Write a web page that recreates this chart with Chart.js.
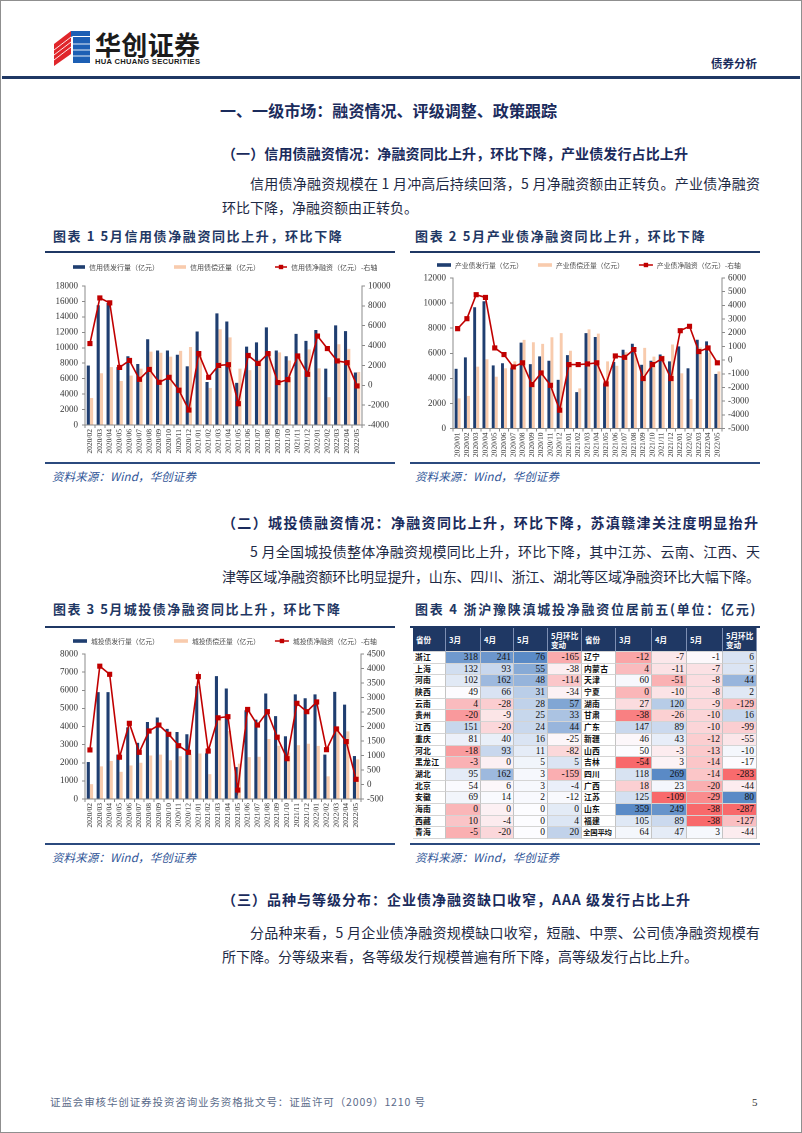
<!DOCTYPE html>
<html lang="zh-CN">
<head>
<meta charset="utf-8">
<script src="https://cdn.jsdelivr.net/npm/chart.js@4.4.1/dist/chart.umd.min.js"></script>
<style>
html,body{margin:0;padding:0;background:#fff;}
body{width:802px;height:1133px;position:relative;overflow:hidden;font-family:"Noto Sans CJK SC","Noto Sans",sans-serif;color:#1e2a45;}
#frame{position:absolute;left:0;top:0;width:800px;height:1131px;border:1px solid #8f8f8f;}
.t{position:absolute;white-space:nowrap;}
.ln{position:absolute;}
canvas{position:absolute;}
#tbl{position:absolute;left:413px;top:628px;width:344px;display:grid;
  grid-template-columns:33px 35px 33px 34px 34px 34px 36px 35px 36px 34px;
  grid-template-rows:24px repeat(16,11.7px);}
#tbl div{box-sizing:border-box;border-right:1px solid #c4c4c4;border-bottom:1px solid #d4d4d4;overflow:hidden;white-space:nowrap;}
#tbl .h{background:#1F3864;color:#fff;font-weight:700;font-size:7.6px;line-height:9.5px;padding:1px 1px 0 3px;display:flex;align-items:center;border-right:1px solid #7d8fb3;}
#tbl .p{font-size:7.8px;font-weight:700;line-height:10.7px;padding-left:2px;color:#111;letter-spacing:0.3px;}
#tbl .p.long{letter-spacing:-0.2px;font-size:7.4px;padding-left:1px;}
#tbl .n{font-family:"Liberation Serif",serif;font-size:9.5px;line-height:10.7px;text-align:right;padding-right:2px;color:#111;}
</style>
</head>
<body>
<div id="frame"></div>
<svg width="802" height="80" style="position:absolute;left:0;top:0">
  <polygon points="54,44 71,31 71,54 54,66" fill="#E0262B"/>
  <polygon points="73,37 90,37 90,63 73,63" fill="#1D5FB4"/>
  <polygon points="71,31 90,31 90,36 73,36 71,37" fill="#1D5FB4"/>
  <g stroke="#fff" stroke-width="0.9">
    <line x1="54" y1="50" x2="71" y2="37"/>
    <line x1="54" y1="55" x2="71" y2="42"/>
    <line x1="54" y1="60" x2="71" y2="47"/>
    <line x1="73" y1="44" x2="90" y2="44"/>
    <line x1="73" y1="50" x2="90" y2="50"/>
    <line x1="73" y1="56" x2="90" y2="56"/>
  </g>
</svg>
<canvas id="c1" width="350" height="207" style="left:45px;top:254px"></canvas>
<canvas id="c2" width="350" height="207" style="left:410px;top:254px"></canvas>
<canvas id="c3" width="350" height="212" style="left:45px;top:629px"></canvas>
<div id="tbl"></div>
<script>
// ---------------- data ----------------
const cats1 = ["2020/02","2020/03","2020/04","2020/05","2020/06","2020/07","2020/08","2020/09","2020/10","2020/11","2020/12","2021/01","2021/02","2021/03","2021/04","2021/05","2021/06","2021/07","2021/08","2021/09","2021/10","2021/11","2021/12","2022/01","2022/02","2022/03","2022/04","2022/05"];
const credIssue = [7700,15500,15800,7500,8900,7900,11100,9650,9650,9100,7600,12100,5570,14450,13400,5460,10150,10700,12650,9650,8900,11800,10900,12300,7300,12900,12150,6800];
const credRepay = [3500,6700,7500,5700,6400,7300,9500,9350,8850,9600,10100,8900,4800,12400,11350,7300,7100,8500,9450,9400,8350,8850,9800,7340,3600,10450,9850,6870];
const credNet = [4200,8800,8300,1800,2500,600,1600,300,800,-500,-2500,3200,800,2000,2080,-1850,3000,2200,3200,270,570,2950,1100,4960,3700,2450,2280,-70];
const credNames = ["信用债发行量（亿元）","信用债偿还量（亿元）","信用债净融资（亿元）-右轴"];

const cats2 = ["2020/01","2020/02","2020/03","2020/04","2020/05","2020/06","2020/07","2020/08","2020/09","2020/10","2020/11","2020/12","2021/01","2021/02","2021/03","2021/04","2021/05","2021/06","2021/07","2021/08","2021/09","2021/10","2021/11","2021/12","2022/01","2022/02","2022/03","2022/04","2022/05"];
const indIssue = [4760,5670,9670,10150,5030,5200,4850,6850,5130,5750,5400,3880,5850,2900,7600,7300,3600,5300,6280,6760,5080,5400,5900,5350,6550,4800,7080,6950,4350];
const indRepay = [2400,2600,4930,5520,4130,4800,5350,7070,6880,6750,7280,7600,6200,3200,7900,7560,5350,5000,6080,6000,6430,5730,5800,6700,4400,2350,6460,6060,4550];
const indNet = [2300,3030,4780,4580,890,400,-500,-200,-1790,-940,-1840,-3660,-330,-330,-280,-200,-1740,300,200,770,-1350,-330,100,-1350,2150,2470,620,890,-200];
const indNames = ["产业债发行量（亿元）","产业债偿还量（亿元）","产业债净融资（亿元）-右轴"];

const cats3 = ["2020/02","2020/03","2020/04","2020/05","2020/06","2020/07","2020/08","2020/09","2020/10","2020/11","2020/12","2021/01","2021/02","2021/03","2021/04","2021/05","2021/06","2021/07","2021/08","2021/09","2021/10","2021/11","2021/12","2022/01","2022/02","2022/03","2022/04","2022/05"];
const lgfvIssue = [2040,5900,5900,2450,3950,3100,4250,4500,3870,3700,3570,6230,2520,6780,6100,1760,4900,4380,5820,4570,3460,5770,5560,5770,2450,5910,5210,2370];
const lgfvRepay = [820,1800,2100,1500,1850,2000,2400,2450,2140,2360,2460,2510,1370,4480,3760,1950,2310,2330,3310,2940,2570,2970,3050,2930,1250,4000,3730,2190];
const lgfvNet = [1190,4080,3800,940,2110,1110,1845,2050,1730,1340,1110,3720,1155,2300,2340,-190,2590,2050,2510,1630,890,2800,2510,2845,1200,1915,1480,180];
const lgfvNames = ["城投债发行量（亿元）","城投债偿还量（亿元）","城投债净融资（亿元）-右轴"];

const tblHead = ["省份","3月","4月","5月","5月环比<br>变动"];
const provL = ["浙江","上海","河南","陕西","云南","贵州","江西","重庆","河北","黑龙江","湖北","北京","安徽","海南","西藏","青海"];
const marL = [318,132,102,49,4,-20,151,81,-18,-3,95,54,69,0,10,-5];
const aprL = [241,93,162,66,-28,-9,-20,40,93,0,162,6,14,0,-4,-20];
const mayL = [76,55,48,31,28,25,24,16,11,5,3,3,2,0,0,0];
const chgL = [-165,-38,-114,-34,57,33,44,-25,-82,5,-159,-4,-12,0,4,20];
const provR = ["辽宁","内蒙古","天津","宁夏","湖南","甘肃","广东","新疆","山西","吉林","四川","广西","江苏","山东","福建","全国平均"];
const marR = [-12,4,60,0,27,-38,147,46,50,-54,118,18,125,359,105,64];
const aprR = [-7,-11,-51,-10,120,-26,89,43,-3,3,269,23,-109,249,89,47];
const mayR = [-1,-7,-8,-8,-9,-10,-10,-12,-13,-14,-14,-20,-29,-38,-38,3];
const chgR = [6,5,44,2,-129,16,-99,-55,-10,-17,-283,-44,80,-287,-127,-44];

// ---------------- styles ----------------
const NAVY = '#1F3E70', PEACH = '#F8CBAD', RED = '#C00000', AX = '#8a8a8a';
const SERIF = '"Liberation Serif","Times New Roman",serif';
const CJK = '"Noto Sans CJK SC","Noto Sans",sans-serif';

const refLegend = {
  id: 'refLegend',
  afterDraw(chart, args, o) {
    const ctx = chart.ctx;
    ctx.save();
    ctx.font = o.size + 'px ' + CJK;
    ctx.textBaseline = 'middle';
    let x = o.x; const y = o.y;
    chart.data.datasets.forEach(ds => {
      if (ds.type === 'line') {
        ctx.strokeStyle = ds.borderColor; ctx.lineWidth = 1.5;
        ctx.beginPath(); ctx.moveTo(x, y); ctx.lineTo(x + o.box, y); ctx.stroke();
        ctx.fillStyle = ds.borderColor; ctx.fillRect(x + o.box / 2 - 2.2, y - 2.2, 4.4, 4.4);
      } else {
        ctx.fillStyle = ds.backgroundColor; ctx.fillRect(x, y - 1.8, o.box, 3.6);
      }
      ctx.fillStyle = '#4a4a4a';
      ctx.fillText(ds.label, x + o.box + 4, y + 0.5);
      x += o.box + 4 + ctx.measureText(ds.label).width + o.gap;
    });
    ctx.restore();
  }
};

function makeChart(id, c) {
  const W = 350, H = c.h, a = c.area;
  const tickFont = {family: SERIF, size: 9};
  return new Chart(document.getElementById(id), {
    type: 'bar',
    data: {
      labels: c.labels,
      datasets: [
        {label: c.names[0], data: c.issue, backgroundColor: NAVY, yAxisID: 'y', order: 2, categoryPercentage: 0.66, barPercentage: 0.95},
        {label: c.names[1], data: c.repay, backgroundColor: PEACH, yAxisID: 'y', order: 3, categoryPercentage: 0.66, barPercentage: 0.95},
        {type: 'line', label: c.names[2], data: c.net, yAxisID: 'y1', order: 0, borderColor: RED, backgroundColor: RED,
         borderWidth: 1.6, pointStyle: 'rect', pointRadius: 2.5, pointHoverRadius: 2.5, pointBackgroundColor: RED, pointBorderColor: RED, tension: 0}
      ]
    },
    options: {
      responsive: false, animation: false, devicePixelRatio: 2,
      layout: {padding: {top: a.top, left: 0, right: 0, bottom: 0}},
      plugins: {legend: {display: false}, tooltip: {enabled: false}, refLegend: c.legend},
      scales: {
        x: {
          grid: {offset: true, drawOnChartArea: false, tickLength: 3, color: AX},
          border: {color: AX},
          ticks: {autoSkip: false, minRotation: 90, maxRotation: 90, font: {family: SERIF, size: 7.5}, color: '#333', padding: 1},
          afterFit(s) { s.height = H - a.bottom; }
        },
        y: {
          position: 'left', min: 0, max: c.yMax,
          ticks: {stepSize: c.yStep, autoSkip: false, font: tickFont, color: '#333', padding: 4, callback: v => String(v)},
          grid: {drawOnChartArea: false, tickLength: 3, color: AX},
          border: {color: AX},
          afterFit(s) { s.width = a.left; }
        },
        y1: {
          position: 'right', min: c.y1Min, max: c.y1Max,
          ticks: {stepSize: c.y1Step, autoSkip: false, font: tickFont, color: '#333', padding: 3, callback: v => String(v)},
          grid: {drawOnChartArea: false, tickLength: 3, color: AX},
          border: {color: AX},
          afterFit(s) { s.width = W - a.right; }
        }
      }
    },
    plugins: [refLegend]
  });
}

makeChart('c1', {labels: cats1, issue: credIssue, repay: credRepay, net: credNet, names: credNames, h: 207,
  yMax: 18000, yStep: 2000, y1Min: -4000, y1Max: 10000, y1Step: 2000,
  area: {left: 40, right: 317, top: 32, bottom: 171},
  legend: {x: 28, y: 13, box: 12, gap: 15, size: 7}});
makeChart('c2', {labels: cats2, issue: indIssue, repay: indRepay, net: indNet, names: indNames, h: 207,
  yMax: 12000, yStep: 2000, y1Min: -5000, y1Max: 6000, y1Step: 1000,
  area: {left: 43, right: 312, top: 24, bottom: 174.5},
  legend: {x: 27, y: 11, box: 14, gap: 15, size: 6.8}});
makeChart('c3', {labels: cats3, issue: lgfvIssue, repay: lgfvRepay, net: lgfvNet, names: lgfvNames, h: 212,
  yMax: 8000, yStep: 1000, y1Min: -500, y1Max: 4500, y1Step: 500,
  area: {left: 40, right: 316, top: 25, bottom: 170},
  legend: {x: 28, y: 12, box: 14, gap: 15, size: 6.8}});

// ---------------- heat-map table ----------------
function lerp(c1, c2, t) { return c1.map((v, i) => Math.round(v + (c2[i] - v) * t)); }
function heatFn(vals) {
  const s = [...vals].sort((a, b) => a - b), n = s.length;
  const mid = n % 2 ? s[(n - 1) / 2] : (s[n / 2 - 1] + s[n / 2]) / 2;
  const mn = s[0], mx = s[n - 1];
  const R = [248, 105, 107], Wt = [252, 252, 255], B = [90, 138, 198];
  return v => {
    let c;
    if (v <= mid) c = lerp(R, Wt, mid === mn ? 1 : (v - mn) / (mid - mn));
    else c = lerp(Wt, B, (v - mid) / (mx - mid));
    return 'rgb(' + c.join(',') + ')';
  };
}
const hMar = heatFn(marL.concat(marR)), hApr = heatFn(aprL.concat(aprR)),
      hMay = heatFn(mayL.concat(mayR)), hChg = heatFn(chgL.concat(chgR));
const tbl = document.getElementById('tbl');
function cell(cls, html, bg) {
  const d = document.createElement('div'); d.className = cls; d.innerHTML = html;
  if (bg) d.style.background = bg; tbl.appendChild(d);
}
function provCell(name) { cell([...name].length > 3 ? 'p long' : 'p', name); }
tblHead.concat(tblHead).forEach(h => cell('h', h));
for (let i = 0; i < provL.length; i++) {
  provCell(provL[i]);
  cell('n', marL[i], hMar(marL[i])); cell('n', aprL[i], hApr(aprL[i]));
  cell('n', mayL[i], hMay(mayL[i])); cell('n', chgL[i], hChg(chgL[i]));
  provCell(provR[i]);
  cell('n', marR[i], hMar(marR[i])); cell('n', aprR[i], hApr(aprR[i]));
  cell('n', mayR[i], hMay(mayR[i])); cell('n', chgR[i], hChg(chgR[i]));
}

// ---------------- page text ----------------
function T(str, x, cy, size, o = {}) {
  const d = document.createElement('div');
  d.className = 't'; d.textContent = str;
  const lh = size * 1.4;
  d.style.left = x + 'px'; d.style.top = (cy - lh / 2 - 0.05 * size) + 'px';
  d.style.fontSize = size + 'px'; d.style.lineHeight = lh + 'px';
  if (o.bold) d.style.fontWeight = '700';
  d.style.color = o.color || '#1e2a45';
  if (o.italic) d.style.fontStyle = 'italic';
  if (o.family) d.style.fontFamily = o.family;
  document.body.appendChild(d);
  if (o.w) {
    const w = d.getBoundingClientRect().width, n = [...str].length;
    if (n > 1) d.style.letterSpacing = ((o.w - w) / (n - 1)) + 'px';
  }
  return d;
}
function L(x, y, w, h, color) {
  const d = document.createElement('div'); d.className = 'ln';
  d.style.cssText = `left:${x}px;top:${y}px;width:${w}px;height:${h}px;background:${color};`;
  document.body.appendChild(d);
}
const HC = '#1a2b5c', TC = '#1F3864', SC = '#2F5597';

T('华创证券', 95, 45, 26, {bold: true, color: '#1b1b1b', w: 105});
T('HUA CHUANG SECURITIES', 95, 62.5, 7.6, {bold: true, color: '#1b1b1b', family: '"Liberation Sans",Arial,sans-serif', w: 105});
T('债券分析', 711, 64, 11.5, {bold: true, color: HC, w: 46});
L(2, 76, 798, 2.5, '#1F3864');

T('一、一级市场：融资情况、评级调整、政策跟踪', 220, 111, 16, {bold: true, color: HC, w: 337});
T('（一）信用债融资情况：净融资同比上升，环比下降，产业债发行占比上升', 222, 154, 14, {bold: true, color: HC, w: 466});
T('信用债净融资规模在 1 月冲高后持续回落，5 月净融资额由正转负。产业债净融资', 250, 184, 14, {w: 510});
T('环比下降，净融资额由正转负。', 222, 208, 14);

T('图表 1   5月信用债净融资同比上升，环比下降', 53, 237, 13, {bold: true, color: TC, w: 292});
T('图表 2   5月产业债净融资同比上升，环比下降', 415, 237, 13, {bold: true, color: TC, w: 293});
L(45, 251, 350, 2, '#1F3864'); L(410, 251, 350, 2, '#1F3864');
L(45, 462, 350, 2, '#2B4A7E'); L(410, 462, 350, 2, '#2B4A7E');
T('资料来源：Wind，华创证券', 52, 477, 11.5, {italic: true, color: SC, w: 144});
T('资料来源：Wind，华创证券', 415, 477, 11.5, {italic: true, color: SC, w: 144});

T('（二）城投债融资情况：净融资同比上升，环比下降，苏滇赣津关注度明显抬升', 222, 523, 14, {bold: true, color: HC, w: 536});
T('5 月全国城投债整体净融资规模同比上升，环比下降，其中江苏、云南、江西、天', 250, 552, 14, {w: 510});
T('津等区域净融资额环比明显提升，山东、四川、浙江、湖北等区域净融资环比大幅下降。', 222, 577, 14, {w: 538});

T('图表 3   5月城投债净融资同比上升，环比下降', 53, 610, 13, {bold: true, color: TC, w: 290});
T('图表 4   浙沪豫陕滇城投净融资位居前五(单位：亿元)', 415, 610, 13, {bold: true, color: TC, w: 344});
L(45, 626, 350, 2, '#1F3864'); L(410, 626, 350, 2, '#1F3864');
L(45, 843, 350, 2, '#2B4A7E'); L(410, 843, 350, 2, '#2B4A7E');
T('资料来源：Wind，华创证券', 52, 858, 11.5, {italic: true, color: SC, w: 144});
T('资料来源：Wind，华创证券', 415, 858, 11.5, {italic: true, color: SC, w: 144});

T('（三）品种与等级分布：企业债净融资缺口收窄，AAA 级发行占比上升', 222, 900, 14, {bold: true, color: HC, w: 468});
T('分品种来看，5 月企业债净融资规模缺口收窄，短融、中票、公司债净融资规模有', 250, 933, 14, {w: 510});
T('所下降。分等级来看，各等级发行规模普遍有所下降，高等级发行占比上升。', 222, 957, 14);

T('证监会审核华创证券投资咨询业务资格批文号：证监许可（2009）1210 号', 50, 1103, 10.5, {color: '#5b6b8a', w: 375});
T('5', 752, 1103, 11, {color: '#333', family: SERIF});
</script>
</body>
</html>
